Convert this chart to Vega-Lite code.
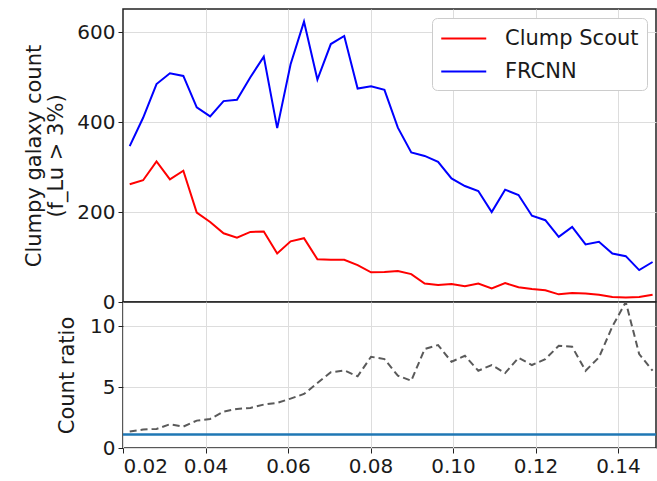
{
  "$schema": "https://vega.github.io/schema/vega-lite/v6.json",
  "padding": {"top": 8, "left": 23, "right": 1, "bottom": 4},
  "bounds": "flush",
  "config": {
    "font": "DejaVu Sans",
    "concat": {"spacing": 0},
    "view": {"stroke": "#222", "strokeWidth": 1.5},
    "axis": {
      "labelFontSize": 20, "labelColor": "#1a1a1a", "titleFontSize": 21, "titleColor": "#1a1a1a",
      "titleFontWeight": "normal", "tickColor": "#222", "tickSize": 5, "labelPadding": 3,
      "gridColor": "#dddddd", "gridWidth": 1, "domain": false
    },
    "legend": {
      "orient": "top-right", "offset": 9, "padding": 8, "strokeColor": "#cccccc", "fillColor": "#ffffff",
      "cornerRadius": 5, "labelFontSize": 21, "labelColor": "#1a1a1a", "symbolType": "M-1,0H3",
      "symbolSize": 506, "symbolStrokeWidth": 2, "labelOffset": 40, "rowPadding": 10
    }
  },
  "datasets": {
    "bins": [
      {"x": 0.021625, "Clump Scout": 262, "FRCNN": 347, "ratio": 1.35},
      {"x": 0.024875, "Clump Scout": 271, "FRCNN": 410, "ratio": 1.52},
      {"x": 0.028125, "Clump Scout": 313, "FRCNN": 485, "ratio": 1.57},
      {"x": 0.031375, "Clump Scout": 273, "FRCNN": 509, "ratio": 1.95},
      {"x": 0.034625, "Clump Scout": 292, "FRCNN": 503, "ratio": 1.76},
      {"x": 0.037875, "Clump Scout": 199, "FRCNN": 433, "ratio": 2.25},
      {"x": 0.041125, "Clump Scout": 178, "FRCNN": 413, "ratio": 2.39},
      {"x": 0.044375, "Clump Scout": 153, "FRCNN": 447, "ratio": 2.99},
      {"x": 0.047625, "Clump Scout": 143, "FRCNN": 450, "ratio": 3.21},
      {"x": 0.050875, "Clump Scout": 156, "FRCNN": 500, "ratio": 3.29},
      {"x": 0.054125, "Clump Scout": 157, "FRCNN": 546, "ratio": 3.57},
      {"x": 0.057375, "Clump Scout": 108, "FRCNN": 387, "ratio": 3.7},
      {"x": 0.060625, "Clump Scout": 135, "FRCNN": 529, "ratio": 4.06},
      {"x": 0.063875, "Clump Scout": 142, "FRCNN": 624, "ratio": 4.44},
      {"x": 0.067125, "Clump Scout": 95, "FRCNN": 495, "ratio": 5.34},
      {"x": 0.070375, "Clump Scout": 94, "FRCNN": 574, "ratio": 6.22},
      {"x": 0.073625, "Clump Scout": 94, "FRCNN": 592, "ratio": 6.38},
      {"x": 0.076875, "Clump Scout": 82, "FRCNN": 475, "ratio": 5.89},
      {"x": 0.080125, "Clump Scout": 66, "FRCNN": 480, "ratio": 7.5},
      {"x": 0.083375, "Clump Scout": 67, "FRCNN": 472, "ratio": 7.31},
      {"x": 0.086625, "Clump Scout": 69, "FRCNN": 388, "ratio": 5.94},
      {"x": 0.089875, "Clump Scout": 62, "FRCNN": 333, "ratio": 5.53},
      {"x": 0.093125, "Clump Scout": 41, "FRCNN": 325, "ratio": 8.13},
      {"x": 0.096375, "Clump Scout": 38, "FRCNN": 312, "ratio": 8.46},
      {"x": 0.099625, "Clump Scout": 40, "FRCNN": 275, "ratio": 7.09},
      {"x": 0.102875, "Clump Scout": 35, "FRCNN": 258, "ratio": 7.58},
      {"x": 0.106125, "Clump Scout": 41, "FRCNN": 247, "ratio": 6.35},
      {"x": 0.109375, "Clump Scout": 30, "FRCNN": 200, "ratio": 6.82},
      {"x": 0.112625, "Clump Scout": 42, "FRCNN": 250, "ratio": 6.16},
      {"x": 0.115875, "Clump Scout": 33, "FRCNN": 238, "ratio": 7.42},
      {"x": 0.119125, "Clump Scout": 29, "FRCNN": 192, "ratio": 6.82},
      {"x": 0.122375, "Clump Scout": 26, "FRCNN": 182, "ratio": 7.31},
      {"x": 0.125625, "Clump Scout": 17, "FRCNN": 145, "ratio": 8.4},
      {"x": 0.128875, "Clump Scout": 20, "FRCNN": 167, "ratio": 8.32},
      {"x": 0.132125, "Clump Scout": 19, "FRCNN": 128, "ratio": 6.35},
      {"x": 0.135375, "Clump Scout": 16, "FRCNN": 134, "ratio": 7.45},
      {"x": 0.138625, "Clump Scout": 11, "FRCNN": 108, "ratio": 9.99},
      {"x": 0.141875, "Clump Scout": 10, "FRCNN": 102, "ratio": 12.0},
      {"x": 0.145125, "Clump Scout": 11, "FRCNN": 71, "ratio": 7.72},
      {"x": 0.148375, "Clump Scout": 16, "FRCNN": 89, "ratio": 6.35}
    ],
    "reference": [{"level": 1.1}]
  },
  "vconcat": [
    {
      "width": 533,
      "height": 293,
      "data": {"name": "bins"},
      "transform": [{"fold": ["Clump Scout", "FRCNN"], "as": ["method", "count"]}],
      "mark": {"type": "line", "strokeWidth": 2, "clip": true},
      "encoding": {
        "x": {
          "field": "x", "type": "quantitative",
          "scale": {"domain": [0.02, 0.1492], "nice": false, "zero": false},
          "axis": {"labels": false, "ticks": false, "title": null, "tickSize": 0, "labelPadding": 0, "minExtent": 0, "maxExtent": 0, "offset": 0, "values": [0.04, 0.06, 0.08, 0.1, 0.12, 0.14]}
        },
        "y": {
          "field": "count", "type": "quantitative",
          "scale": {"domain": [0, 652], "nice": false},
          "axis": {"values": [0, 200, 400, 600], "title": ["Clumpy galaxy count", "(f_Lu > 3%)"], "titlePadding": 10, "titleLineHeight": 22}
        },
        "color": {
          "field": "method", "type": "nominal",
          "scale": {"domain": ["Clump Scout", "FRCNN"], "range": ["#ff0000", "#0000ff"]},
          "legend": {"title": null}
        }
      }
    },
    {
      "width": 533,
      "height": 146,
      "layer": [
        {
          "data": {"name": "bins"},
          "mark": {"type": "line", "strokeWidth": 2, "strokeDash": [7, 4], "color": "#5a5a5a", "clip": true},
          "encoding": {
            "x": {
              "field": "x", "type": "quantitative",
              "scale": {"domain": [0.02, 0.1492], "nice": false, "zero": false},
              "axis": {"values": [0.02, 0.04, 0.06, 0.08, 0.1, 0.12, 0.14], "format": ".2f", "title": null}
            },
            "y": {
              "field": "ratio", "type": "quantitative",
              "scale": {"domain": [0, 12], "nice": false},
              "axis": {"values": [0, 5, 10], "title": "Count ratio", "titlePadding": 12}
            }
          }
        },
        {
          "data": {"name": "reference"},
          "mark": {"type": "rule", "strokeWidth": 2.5, "color": "#1f77b4"},
          "encoding": {"y": {"field": "level", "type": "quantitative"}}
        }
      ]
    }
  ],
  "spacing": 0
}
